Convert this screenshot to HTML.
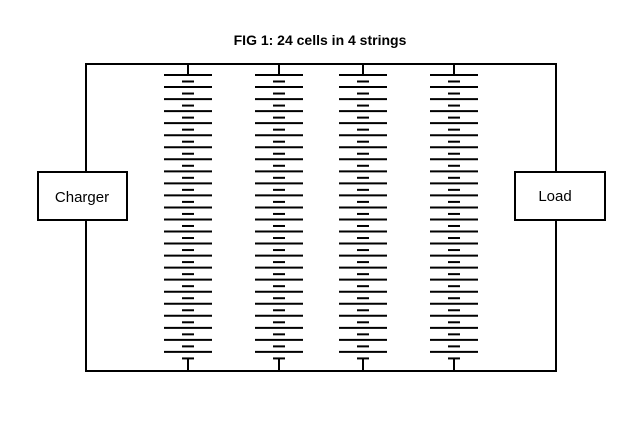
<!DOCTYPE html>
<html><head><style>body{margin:0;background:#fff}</style></head><body>
<svg width="640" height="426" xmlns="http://www.w3.org/2000/svg" xmlns:xlink="http://www.w3.org/1999/xlink">
<defs>
<g id="c" stroke="#000" stroke-width="2"><line x1="-24" y1="0" x2="24" y2="0"/><line x1="-6" y1="6.5" x2="6" y2="6.5"/></g>
<g id="s">
<line x1="0" y1="64" x2="0" y2="75" stroke="#000" stroke-width="2"/>
<line x1="0" y1="359" x2="0" y2="371" stroke="#000" stroke-width="2"/>
<use xlink:href="#c" y="75"/><use xlink:href="#c" y="87.04"/><use xlink:href="#c" y="99.08"/><use xlink:href="#c" y="111.12"/>
<use xlink:href="#c" y="123.16"/><use xlink:href="#c" y="135.2"/><use xlink:href="#c" y="147.24"/><use xlink:href="#c" y="159.28"/>
<use xlink:href="#c" y="171.32"/><use xlink:href="#c" y="183.36"/><use xlink:href="#c" y="195.4"/><use xlink:href="#c" y="207.44"/>
<use xlink:href="#c" y="219.48"/><use xlink:href="#c" y="231.52"/><use xlink:href="#c" y="243.56"/><use xlink:href="#c" y="255.6"/>
<use xlink:href="#c" y="267.64"/><use xlink:href="#c" y="279.68"/><use xlink:href="#c" y="291.72"/><use xlink:href="#c" y="303.76"/>
<use xlink:href="#c" y="315.8"/><use xlink:href="#c" y="327.84"/><use xlink:href="#c" y="339.88"/><use xlink:href="#c" y="351.92"/>
</g>
</defs>
<text x="320" y="45" text-anchor="middle" font-family="Liberation Sans, sans-serif" font-weight="bold" font-size="14">FIG 1: 24 cells in 4 strings</text>
<g stroke="#000" stroke-width="2" fill="none">
<polyline points="86,172 86,64 556,64 556,172"/>
<polyline points="86,220 86,371 556,371 556,220"/>
<rect x="38" y="172" width="89" height="48" fill="#fff"/>
<rect x="515" y="172" width="90" height="48" fill="#fff"/>
</g>
<text x="82" y="202" text-anchor="middle" font-family="Liberation Sans, sans-serif" font-size="15">Charger</text>
<text x="555" y="201" text-anchor="middle" font-family="Liberation Sans, sans-serif" font-size="15">Load</text>
<use xlink:href="#s" x="188"/>
<use xlink:href="#s" x="279"/>
<use xlink:href="#s" x="363"/>
<use xlink:href="#s" x="454"/>
</svg>
</body></html>
